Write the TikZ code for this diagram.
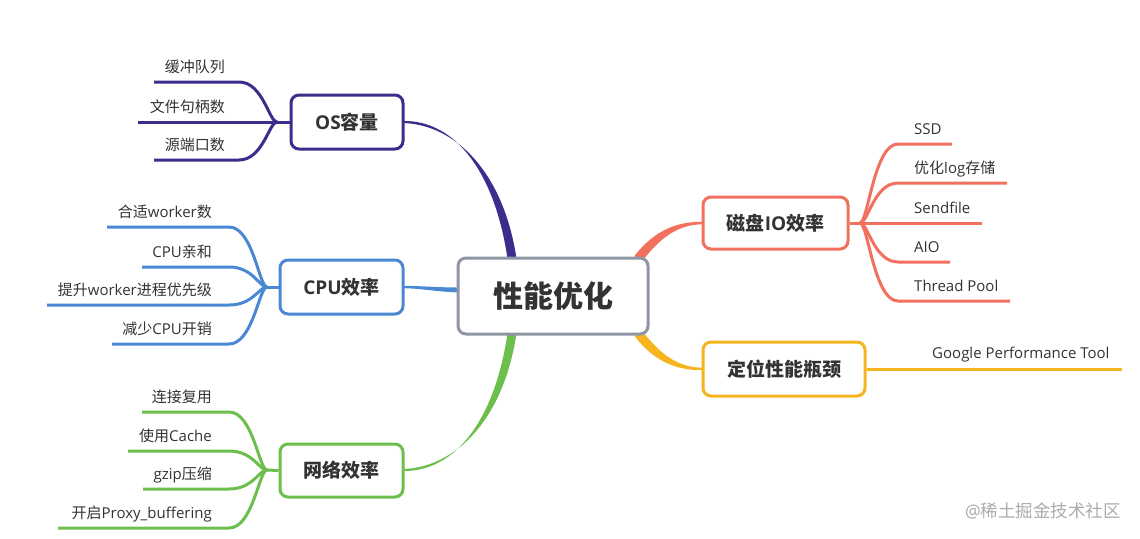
\documentclass[tikz,border=0pt]{standalone}
\usepackage{fontspec}
\setmainfont{Open Sans}
\newfontfamily\cjk{Noto Sans CJK SC}
\newcommand\zh[1]{{\cjk#1}}
\usetikzlibrary{calc}
\definecolor{cpur}{RGB}{60,44,140}
\definecolor{cblu}{RGB}{74,136,212}
\definecolor{cgrn}{RGB}{108,191,76}
\definecolor{cred}{RGB}{242,112,94}
\definecolor{corg}{RGB}{246,180,31}
\definecolor{cgry}{RGB}{142,150,166}
\definecolor{txt}{RGB}{51,51,51}
\definecolor{wm}{RGB}{172,172,172}
\begin{document}
\begin{tikzpicture}[x=1pt,y=-1pt,
  box/.style={draw,rounded corners=8pt,line width=3pt,fill=white,inner sep=0pt,
    text=txt,font=\bfseries\fontsize{19}{23}\selectfont},
  leaf/.style={inner sep=0pt,text=txt,font=\fontsize{15}{18}\selectfont},
  lk/.style={line width=3pt}]
\useasboundingbox[fill=white] (0,0) rectangle (1140,538);

% ---- main branches (tapered) ----
\fill[cpur] (508,262) .. controls (495.5,172) and (455,120) .. (403,121)
  -- (403,123) .. controls (455,124.5) and (504.5,172) .. (517,262) -- cycle;
\fill[cgrn] (508,330) .. controls (495.5,420) and (455,472) .. (403,471)
  -- (403,469) .. controls (455,467.5) and (504.5,420) .. (517,330) -- cycle;
\fill[cblu] (462,287.5) .. controls (440,287.7) and (420,285.8) .. (403,285.8)
  -- (403,288.2) .. controls (420,288.2) and (440,292.3) .. (462,292.5) -- cycle;
\fill[cred] (641.5,262) .. controls (662,235) and (680,224.5) .. (703,224.2)
  -- (703,221.8) .. controls (680,221.5) and (656,228) .. (634.5,256) -- cycle;
\fill[corg] (641.5,330) .. controls (662,357) and (680,367.5) .. (703,367.8)
  -- (703,370.2) .. controls (680,370.5) and (656,364) .. (634.5,336) -- cycle;

% ---- boxes ----
\node[box,draw=cgry,minimum width=190pt,minimum height=76pt,
  font=\bfseries\fontsize{30}{35}\selectfont] (root) at (553,296) {\zh{性能优化}};
\node[box,draw=cpur,minimum width=112pt,minimum height=54pt] (os) at (347,122) {OS\zh{容量}};
\node[box,draw=cblu,minimum width=123pt,minimum height=54pt] (cpu) at (341.5,287) {CPU\zh{效率}};
\node[box,draw=cgrn,minimum width=123pt,minimum height=53pt] (net) at (341.5,470.5) {\zh{网络效率}};
\node[box,draw=cred,minimum width=145pt,minimum height=52pt] (disk) at (775.5,223) {\zh{磁盘}IO\zh{效率}};
\node[box,draw=corg,minimum width=162pt,minimum height=54pt] (loc) at (784,369) {\zh{定位性能瓶颈}};

% ---- OS leaves ----
\coordinate (osj) at (277,122);
\coordinate (o1) at (154,82);
\coordinate (o2) at (138,122);
\coordinate (o3) at (154,160);
\draw[cpur,lk] (os.west) -- (osj);
\foreach \c in {o1,o2,o3}{
  \draw[cpur,lk] (osj) .. controls ($(osj)+(-8,0)$) and ($(osj |- \c)+(-14,0)$) .. ($(osj |- \c)+(-38,0)$) -- (\c);}
\node[leaf,anchor=base east] (to1) at (225,72) {\zh{缓冲队列}};
\node[leaf,anchor=base east] (to2) at (225,112) {\zh{文件句柄数}};
\node[leaf,anchor=base east] (to3) at (225,150) {\zh{源端口数}};

% ---- CPU leaves ----
\coordinate (cj) at (267,287);
\coordinate (c1) at (107,227);
\coordinate (c2) at (142,267);
\coordinate (c3) at (47,305);
\coordinate (c4) at (112,344);
\draw[cblu,lk] (cpu.west) -- (cj);
\foreach \c in {c1,c2,c3,c4}{
  \draw[cblu,lk] (cj) .. controls ($(cj)+(-8,0)$) and ($(cj |- \c)+(-14,0)$) .. ($(cj |- \c)+(-38,0)$) -- (\c);}
\node[leaf,anchor=base east] (tc1) at (212,217) {\zh{合适}worker\zh{数}};
\node[leaf,anchor=base east] (tc2) at (212,257) {CPU\zh{亲和}};
\node[leaf,anchor=base east] (tc3) at (212,295) {\zh{提升}worker\zh{进程优先级}};
\node[leaf,anchor=base east] (tc4) at (212,334) {\zh{减少}CPU\zh{开销}};

% ---- Network leaves ----
\coordinate (nj) at (267,470);
\coordinate (n1) at (142,412);
\coordinate (n2) at (128,451);
\coordinate (n3) at (143,489);
\coordinate (n4) at (58,528);
\draw[cgrn,lk] (net.west) -- (nj);
\foreach \c in {n1,n2,n3,n4}{
  \draw[cgrn,lk] (nj) .. controls ($(nj)+(-8,0)$) and ($(nj |- \c)+(-14,0)$) .. ($(nj |- \c)+(-38,0)$) -- (\c);}
\node[leaf,anchor=base east] (tn1) at (212,402) {\zh{连接复用}};
\node[leaf,anchor=base east] (tn2) at (212,441) {\zh{使用}Cache};
\node[leaf,anchor=base east] (tn3) at (212,479) {gzip\zh{压缩}};
\node[leaf,anchor=base east] (tn4) at (212,518) {\zh{开启}Proxy\_buffering};

% ---- Disk leaves ----
\coordinate (dj) at (860,223);
\coordinate (d1) at (952,144);
\coordinate (d2) at (1007,183);
\coordinate (d3) at (982,223);
\coordinate (d4) at (950,262);
\coordinate (d5) at (1010,301);
\draw[cred,lk] (disk.east) -- (dj);
\foreach \c in {d1,d2,d3,d4,d5}{
  \draw[cred,lk] (dj) .. controls ($(dj)+(8,0)$) and ($(dj |- \c)+(14,0)$) .. ($(dj |- \c)+(38,0)$) -- (\c);}
\node[leaf,anchor=base west] (td1) at (914,134) {SSD};
\node[leaf,anchor=base west] (td2) at (914,173) {\zh{优化}log\zh{存储}};
\node[leaf,anchor=base west] (td3) at (914,213) {Sendfile};
\node[leaf,anchor=base west] (td4) at (914,252) {AIO};
\node[leaf,anchor=base west] (td5) at (914,291) {Thread Pool};

% ---- Locate leaf ----
\coordinate (g1) at (1122,369);
\draw[corg,lk] (loc.east) -- (g1);
\node[leaf,anchor=base west] (tg1) at (932,358) {Google Performance Tool};

% ---- watermark ----
\node[inner sep=0pt,text=wm,font=\fontsize{17.5}{20}\selectfont] (wmk) at (1043,511) {@\zh{稀土掘金技术社区}};
\end{tikzpicture}
\end{document}
